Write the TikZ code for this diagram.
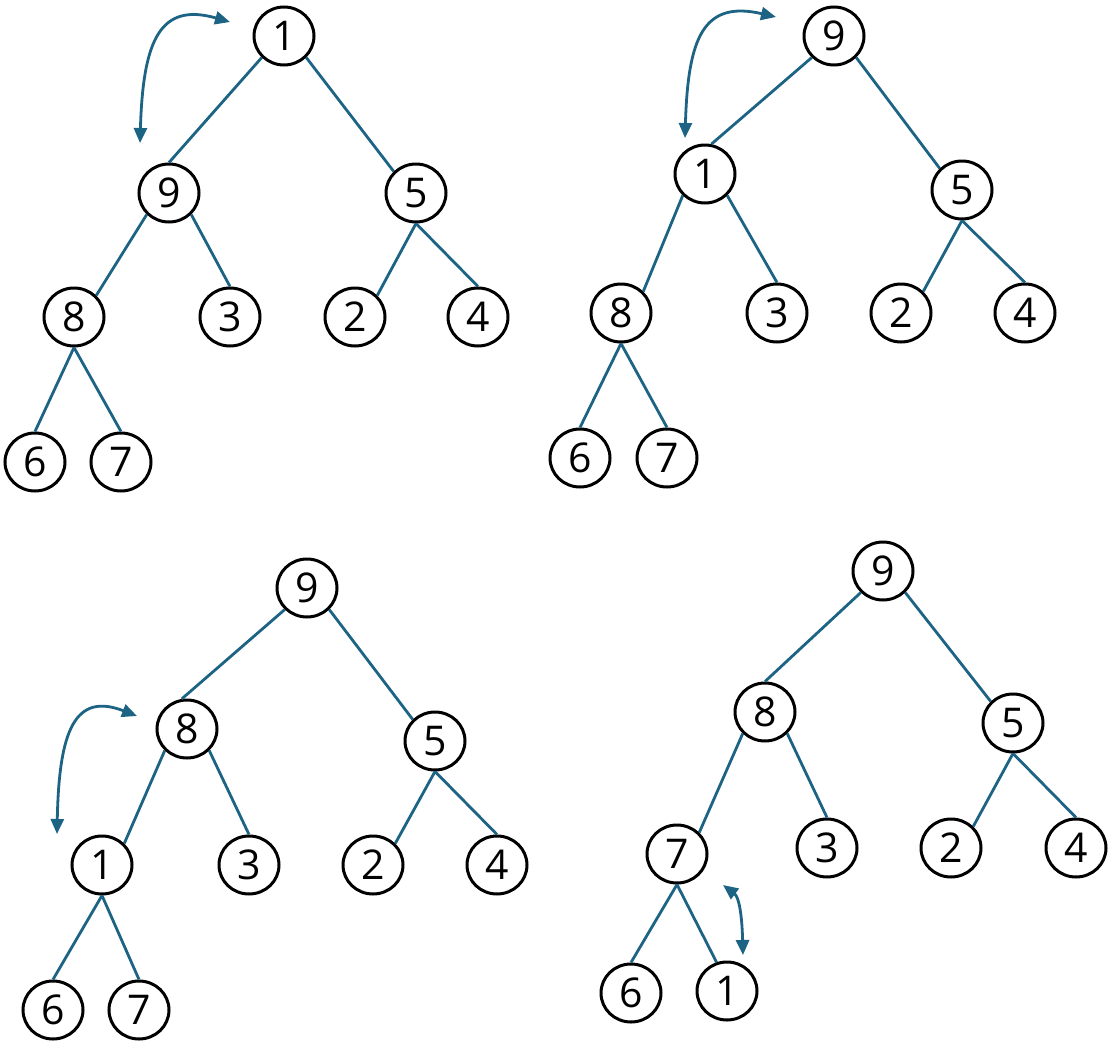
\documentclass[tikz,border=0pt]{standalone}
\usepackage{fontspec}
\setmainfont{Open Sans}
\usetikzlibrary{arrows.meta,shapes.geometric}
\definecolor{teal1}{RGB}{28,99,132}
\tikzset{
  hnode/.style={ellipse, draw=black, line width=3pt, minimum width=60pt, minimum height=58pt, inner sep=0pt,
    font=\fontsize{41pt}{43pt}\selectfont},
  tedge/.style={draw=teal1, line width=2.8pt},
  swaparrow/.style={draw=teal1, line width=2.8pt, {Triangle[length=15pt,width=13pt]}-{Triangle[length=15pt,width=13pt]}}
}
\begin{document}
\begin{tikzpicture}[x=1pt,y=-1pt]
\useasboundingbox (0,0) rectangle (1109,1055);
% ---------- Tree 1 (top left) ----------
\node[hnode] (a1) at (284,36) {1};
\node[hnode] (a9) at (169,193) {9};
\node[hnode] (a5) at (416,193) {5};
\node[hnode] (a8) at (74,317) {8};
\node[hnode] (a3) at (230,317) {3};
\node[hnode] (a2) at (355,317) {2};
\node[hnode] (a4) at (478,317) {4};
\node[hnode] (a6) at (35,462) {6};
\node[hnode] (a7) at (121,462) {7};
\draw[tedge] (a1.south west) -- (a9.north);
\draw[tedge] (a1.south east) -- (a5.north west);
\draw[tedge] (a9.south west) -- (a8.north east);
\draw[tedge] (a9.south east) -- (a3.north);
\draw[tedge] (a8.south) -- (a6.north);
\draw[tedge] (a8.south) -- (a7.north);
\draw[tedge] (a5.south) -- (a2.north east);
\draw[tedge] (a5.south) -- (a4.north);
\coordinate (sa1) at (140,143);
\coordinate (sa2) at (230,22);
\draw[swaparrow] (sa1) .. controls (143,40) and (160,2) .. (sa2);
% ---------- Tree 2 (top right) ----------
\node[hnode] (b9) at (834,36) {9};
\node[hnode] (b1) at (705,174) {1};
\node[hnode] (b5) at (962,190) {5};
\node[hnode] (b8) at (621,313) {8};
\node[hnode] (b3) at (777,313) {3};
\node[hnode] (b2) at (901,313) {2};
\node[hnode] (b4) at (1025,313) {4};
\node[hnode] (b6) at (580,458) {6};
\node[hnode] (b7) at (667,458) {7};
\draw[tedge] (b9.south west) -- (b1.78);
\draw[tedge] (b9.south east) -- (b5.north west);
\draw[tedge] (b1.south west) -- (b8.north east);
\draw[tedge] (b1.south east) -- (b3.north);
\draw[tedge] (b8.south) -- (b6.north);
\draw[tedge] (b8.south) -- (b7.north);
\draw[tedge] (b5.south) -- (b2.north east);
\draw[tedge] (b5.south) -- (b4.north);
\coordinate (sb1) at (685,138);
\coordinate (sb2) at (776,17);
\draw[swaparrow] (sb1) .. controls (688,38) and (703,0) .. (sb2);
% ---------- Tree 3 (bottom left) ----------
\node[hnode] (c9) at (307,588) {9};
\node[hnode] (c8) at (187,729) {8};
\node[hnode] (c5) at (435,741) {5};
\node[hnode] (c1) at (102,865) {1};
\node[hnode] (c3) at (249,865) {3};
\node[hnode] (c2) at (373,865) {2};
\node[hnode] (c4) at (497,865) {4};
\node[hnode] (c6) at (53,1010) {6};
\node[hnode] (c7) at (139,1010) {7};
\draw[tedge] (c9.south west) -- (c8.100);
\draw[tedge] (c9.south east) -- (c5.north west);
\draw[tedge] (c8.south west) -- (c1.north east);
\draw[tedge] (c8.south east) -- (c3.north);
\draw[tedge] (c1.south) -- (c6.north);
\draw[tedge] (c1.south) -- (c7.north);
\draw[tedge] (c5.south) -- (c2.north east);
\draw[tedge] (c5.south) -- (c4.north);
\coordinate (sc1) at (57,834);
\coordinate (sc2) at (137,716);
\draw[swaparrow] (sc1) .. controls (59,730) and (75,692) .. (sc2);
% ---------- Tree 4 (bottom right) ----------
\node[hnode] (d9) at (883,571) {9};
\node[hnode] (d8) at (765,712) {8};
\node[hnode] (d5) at (1013,723) {5};
\node[hnode] (d7) at (677,854) {7};
\node[hnode] (d3) at (827,848) {3};
\node[hnode] (d2) at (951,848) {2};
\node[hnode] (d4) at (1076,848) {4};
\node[hnode] (d6) at (631,993) {6};
\node[hnode] (d1) at (727,991) {1};
\draw[tedge] (d9.south west) -- (d8.north);
\draw[tedge] (d9.south east) -- (d5.north west);
\draw[tedge] (d8.south west) -- (d7.north east);
\draw[tedge] (d8.south east) -- (d3.north);
\draw[tedge] (d7.south) -- (d6.north);
\draw[tedge] (d7.south) -- (d1.110);
\draw[tedge] (d5.south) -- (d2.north east);
\draw[tedge] (d5.south) -- (d4.north);
\coordinate (sd1) at (743,955);
\coordinate (sd2) at (723,885);
\draw[swaparrow] (sd1) .. controls (742,915) and (739,897) .. (sd2);
\end{tikzpicture}
\end{document}
